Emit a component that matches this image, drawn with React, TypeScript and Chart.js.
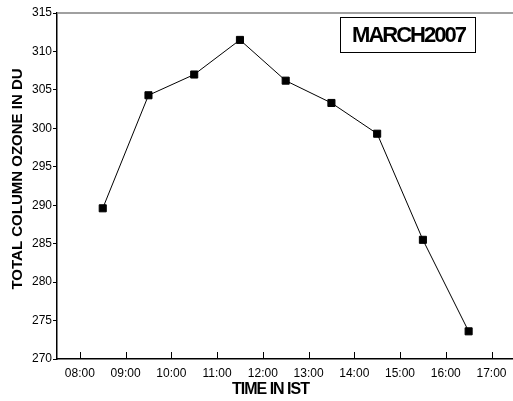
import React, { useEffect, useRef } from "react";
import { Chart, registerables } from "chart.js";

Chart.register(...registerables);

const TIMES = [8.5, 9.5, 10.5, 11.5, 12.5, 13.5, 14.5, 15.5, 16.5];
const OZONE = [289.6, 304.3, 307.0, 311.5, 306.2, 303.3, 299.3, 285.5, 273.6];
const HOUR_TICKS = [8, 9, 10, 11, 12, 13, 14, 15, 16, 17];
const LEGEND_LABEL = "MARCH2007";
const X_TITLE = "TIME IN IST";
const Y_TITLE = "TOTAL COLUMN OZONE IN DU";

const FONT = "'Liberation Sans', Arial, sans-serif";

const fmtHour = (v: number) => `${String(Math.floor(v)).padStart(2, "0")}:00`;

const decor = {
  id: "decor",
  afterDraw(chart: any) {
    const { ctx, chartArea, scales } = chart;
    const xs = scales.x;
    ctx.save();
    // top gray frame line
    ctx.strokeStyle = "#808080";
    ctx.lineWidth = 1.5;
    ctx.beginPath();
    ctx.moveTo(chartArea.left, chartArea.top);
    ctx.lineTo(chartArea.right, chartArea.top);
    ctx.stroke();
    // inside x tick marks
    ctx.strokeStyle = "#000";
    ctx.lineWidth = 1;
    HOUR_TICKS.forEach((h) => {
      const px = Math.round(xs.getPixelForValue(h)) + 0.5;
      ctx.beginPath();
      ctx.moveTo(px, chartArea.bottom);
      ctx.lineTo(px, chartArea.bottom - 7);
      ctx.stroke();
    });
    // x title
    ctx.fillStyle = "#000";
    ctx.textAlign = "center";
    ctx.textBaseline = "middle";
    ctx.font = `bold 16px ${FONT}`;
    (ctx as any).letterSpacing = "-1px";
    ctx.fillText(X_TITLE, 270.5, 389.5);
    // y title
    ctx.save();
    ctx.translate(17.5, 179);
    ctx.rotate(-Math.PI / 2);
    ctx.font = `bold 15px ${FONT}`;
    (ctx as any).letterSpacing = "0px";
    ctx.fillText(Y_TITLE, 0, 0);
    ctx.restore();
    // legend box
    ctx.strokeStyle = "#000";
    ctx.lineWidth = 1;
    ctx.strokeRect(340.5, 17.5, 135, 35);
    ctx.font = `bold 22px ${FONT}`;
    (ctx as any).letterSpacing = "-2px";
    ctx.fillText(LEGEND_LABEL, 408.5, 35.5);
    ctx.restore();
  },
};

export default function App() {
  const ref = useRef<HTMLCanvasElement>(null);
  useEffect(() => {
    if (!ref.current) return;
    const chart = new Chart(ref.current, {
      type: "line",
      data: {
        datasets: [
          {
            label: LEGEND_LABEL,
            data: TIMES.map((t, i) => ({ x: t, y: OZONE[i] })),
            borderColor: "#000",
            borderWidth: 1,
            backgroundColor: "#000",
            pointStyle: "rect",
            pointRadius: 5,
            pointBorderWidth: 1,
            pointBackgroundColor: "#000",
            pointBorderColor: "#000",
            tension: 0,
          },
        ],
      },
      options: {
        responsive: false,
        animation: false,
        layout: { autoPadding: false, padding: { top: 13, right: 0, left: 0, bottom: 0 } },
        plugins: { legend: { display: false }, tooltip: { enabled: false } },
        scales: {
          x: {
            type: "linear",
            min: 7.5,
            max: 17.47,
            afterBuildTicks: (s: any) => {
              s.ticks = HOUR_TICKS.map((v) => ({ value: v }));
            },
            afterFit: (s: any) => {
              s.height = 42;
              s.paddingLeft = 0;
              s.paddingRight = 0;
            },
            ticks: {
              color: "#000",
              font: { family: FONT, size: 12 },
              padding: 7,
              maxRotation: 0,
              autoSkip: false,
              callback: (v: any) => fmtHour(Number(v)),
            },
            grid: { display: true, drawOnChartArea: false, drawTicks: false },
            border: { display: true, color: "#000", width: 1.5 },
          },
          y: {
            min: 270,
            max: 315,
            ticks: {
              stepSize: 5,
              color: "#000",
              font: { family: FONT, size: 12 },
              padding: 1,
            },
            afterFit: (s: any) => {
              s.width = 57;
              s.paddingTop = 0;
              s.paddingBottom = 0;
            },
            grid: {
              display: true,
              drawOnChartArea: false,
              drawTicks: true,
              tickLength: 4,
              tickColor: "#000",
            },
            border: { display: true, color: "#000", width: 1.5 },
          },
        },
      },
      plugins: [decor],
    });
    return () => chart.destroy();
  }, []);
  return (
    <div style={{ position: "absolute", left: 0, top: 0, width: 513, height: 401, background: "#fff" }}>
      <canvas ref={ref} width={513} height={401} style={{ display: "block" }} />
    </div>
  );
}
